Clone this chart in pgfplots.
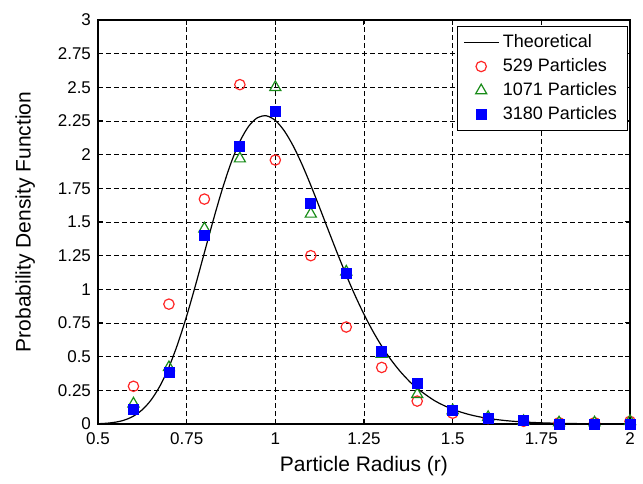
\documentclass[border=0pt]{standalone}
\usepackage{fontspec}
\setmainfont{Liberation Sans}
\usepackage{pgfplots}
\pgfplotsset{compat=1.18}
\definecolor{mred}{rgb}{1,0.15,0.15}
\definecolor{mgreen}{rgb}{0.1,0.55,0.1}
\definecolor{mblue}{rgb}{0,0,1}
\begin{document}
\begin{tikzpicture}
\begin{axis}[
    width=266pt, height=202pt, scale only axis,
    xmin=0.5, xmax=2, ymin=0, ymax=3,
    xtick={0.5,0.75,1,1.25,1.5,1.75,2},
    ytick={0,0.25,0.5,0.75,1,1.25,1.5,1.75,2,2.25,2.5,2.75,3},
    grid=major,
    grid style={black, line width=0.4pt, dash pattern=on 2.5pt off 1.5pt},
    axis line style={black, line width=0.6pt},
    tick align=inside, major tick length=2.5pt,
    tick style={black, line width=0.5pt},
    /pgf/number format/assume math mode=true,
    ticklabel style={font=\fontsize{8.5}{10}\selectfont},
    xticklabel style={yshift=-1pt},
    xlabel={Particle Radius (r)},
    ylabel={Probability Density Function},
    label style={font=\fontsize{10.5}{12}\selectfont},
    xlabel style={at={(axis description cs:0.5,-0.104)}, anchor=center},
    ylabel style={at={(axis description cs:-0.137,0.5)}, anchor=center},
    legend style={at={(0.995,0.985)}, anchor=north east, draw=black,
      fill=white, font=\fontsize{9}{11}\selectfont, row sep=0pt,
      inner xsep=3pt, inner ysep=2pt},
    legend cell align=left,
  ]

  % theoretical density
  \addplot[black, line width=0.6pt, no markers, smooth] coordinates {
    (0.5,0.0021) (0.525,0.0057) (0.55,0.0137) (0.575,0.0296) (0.6,0.0584)
    (0.625,0.1062) (0.65,0.1794) (0.675,0.2838) (0.7,0.4227) (0.725,0.5967)
    (0.75,0.8022) (0.775,1.0312) (0.8,1.2727) (0.825,1.5135) (0.85,1.7397)
    (0.875,1.9380) (0.9,2.0977) (0.925,2.2115) (0.95,2.2750) (0.975,2.2882)
    (1.0,2.2539) (1.025,2.1777) (1.05,2.0666) (1.075,1.9288) (1.1,1.7725)
    (1.125,1.6055) (1.15,1.4350) (1.175,1.2666) (1.2,1.1050) (1.225,0.9535)
    (1.25,0.8145) (1.275,0.6892) (1.3,0.5780) (1.325,0.4807) (1.35,0.3966)
    (1.375,0.3249) (1.4,0.2643) (1.45,0.1716) (1.5,0.1090) (1.55,0.0678)
    (1.6,0.0415) (1.65,0.0250) (1.7,0.0148) (1.75,0.0087) (1.8,0.0050)
    (1.85,0.0029) (1.9,0.0017) (1.95,0.0010) (2.0,0.0005)
  };

  % 529 particles
  \addplot[only marks, mark=o, mark size=2.6pt, mred, line width=0.6pt] coordinates {
    (0.6,0.28) (0.7,0.89) (0.8,1.67) (0.9,2.52) (1.0,1.96) (1.1,1.25)
    (1.2,0.72) (1.3,0.42) (1.4,0.17) (1.5,0.08) (1.6,0.04) (1.7,0.02)
    (1.8,0.01) (1.9,0.01) (2.0,0.02)
  };

  % 1071 particles
  \addplot[only marks, mark=triangle, mark size=3.2pt, mgreen, line width=0.6pt] coordinates {
    (0.6,0.15) (0.7,0.42) (0.8,1.45) (0.9,1.97) (1.0,2.50) (1.1,1.56)
    (1.2,1.13) (1.3,0.52) (1.4,0.22) (1.5,0.10) (1.6,0.05) (1.7,0.02)
    (1.8,0.01) (1.9,0.01) (2.0,0.02)
  };

  % 3180 particles
  \addplot[only marks, mark=square*, mark size=2.5pt, mblue] coordinates {
    (0.6,0.11) (0.7,0.38) (0.8,1.40) (0.9,2.06) (1.0,2.32) (1.1,1.64)
    (1.2,1.12) (1.3,0.54) (1.4,0.30) (1.5,0.10) (1.6,0.04) (1.7,0.03)
    (1.8,0.00) (1.9,0.00) (2.0,0.00)
  };

  \legend{Theoretical, 529 Particles, 1071 Particles, 3180 Particles}
\end{axis}
% margins of the original figure
\path ([xshift=-49pt,yshift=-30pt]current axis.south west)
      ([xshift=6.5pt,yshift=10pt]current axis.north east);
\end{tikzpicture}
\end{document}
